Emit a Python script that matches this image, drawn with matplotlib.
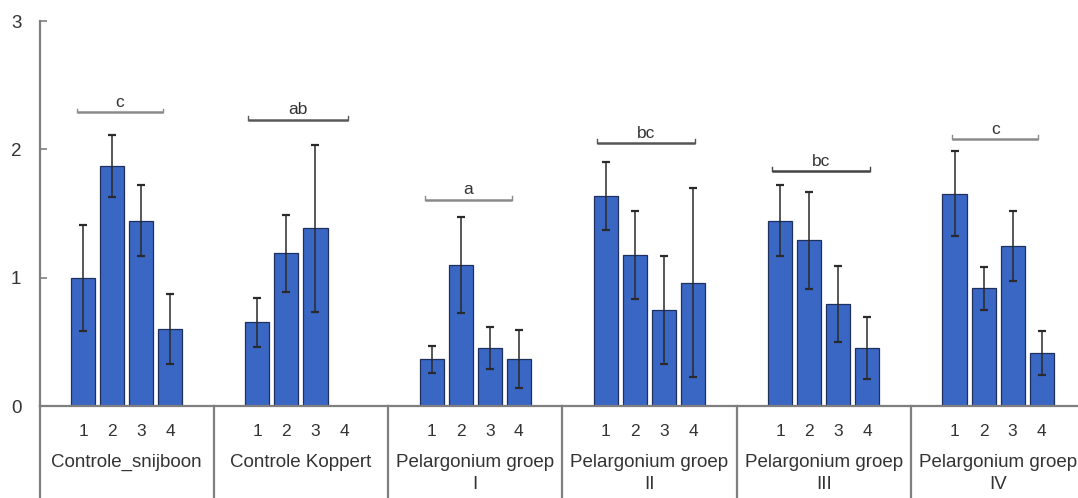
import matplotlib
matplotlib.use("Agg")
import matplotlib.pyplot as plt
import matplotlib.transforms as mtransforms
import numpy as np

plt.rcParams["font.family"] = ["Liberation Sans", "DejaVu Sans"]

# Groups and per-group plots (1-4)
groups = ["Controle_snijboon", "Controle Koppert", "Pelargonium groep\nI",
          "Pelargonium groep\nII", "Pelargonium groep\nIII", "Pelargonium groep\nIV"]
plot_labels = ["1", "2", "3", "4"]

# Mean values per group (nan = no data)
means = [
    [1.00, 1.87, 1.445, 0.60],
    [0.652, 1.19, 1.385, np.nan],
    [0.364, 1.10, 0.45, 0.364],
    [1.637, 1.177, 0.745, 0.962],
    [1.445, 1.29, 0.795, 0.449],
    [1.655, 0.917, 1.25, 0.413],
]
# Standard errors
errors = [
    [0.414, 0.24, 0.28, 0.274],
    [0.19, 0.30, 0.65, np.nan],
    [0.104, 0.375, 0.162, 0.227],
    [0.267, 0.34, 0.42, 0.734],
    [0.277, 0.38, 0.293, 0.242],
    [0.333, 0.169, 0.273, 0.173],
]
# Significance letters per group and the height of their bracket
sig_letters = ["c", "ab", "a", "bc", "bc", "c"]
sig_heights = [2.288, 2.232, 1.605, 2.047, 1.83, 2.078]

# Layout: six slots per group, bars in slots 1..4
slots_per_group = 6
bracket_spans = [(1.28, 4.24), (1.18, 4.62), (1.27, 4.25),
                 (1.18, 4.56), (1.20, 4.59), (1.42, 4.38)]
bracket_colors = ["#8a8a8a", "#5a5a5a", "#8a8a8a", "#555555", "#444444", "#8a8a8a"]

W, H = 1078, 498
fig = plt.figure(figsize=(W / 100, H / 100), dpi=100)
ax_left, ax_bottom = 39.5 / W, (H - 406) / H
ax_top = (H - 21) / H
ax = fig.add_axes([ax_left, ax_bottom, 1.0 - ax_left, ax_top - ax_bottom])

bar_color = "#3a66c4"
edge_color = "#1f2f5e"
axis_color = "#7f7f7f"
text_color = "#333333"

for g, (vals, errs) in enumerate(zip(means, errors)):
    x = g * slots_per_group + np.arange(1, 5) + 0.5
    vals = np.array(vals, dtype=float)
    errs = np.array(errs, dtype=float)
    ok = ~np.isnan(vals)
    ax.bar(x[ok], vals[ok], width=0.83, color=bar_color, edgecolor=edge_color,
           linewidth=0.9, zorder=2)
    ax.errorbar(x[ok], vals[ok], yerr=errs[ok], fmt="none", ecolor="#2a2a2a",
                elinewidth=1.1, capsize=3.2, capthick=1.6, zorder=3)

    # significance bracket with letter
    x0 = g * slots_per_group + bracket_spans[g][0]
    x1 = g * slots_per_group + bracket_spans[g][1]
    yb = sig_heights[g]
    col = bracket_colors[g]
    ax.plot([x0, x1], [yb, yb], color=col, lw=1.8, solid_capstyle="butt", zorder=3)
    for xe in (x0, x1):
        ax.plot([xe, xe], [yb, yb + 0.03], color=col, lw=1.0, zorder=3)
    ax.text((x0 + x1) / 2, yb + 0.02, sig_letters[g], ha="center", va="bottom",
            fontsize=12.5, color=text_color, zorder=4)

ax.set_xlim(0, 35.75)
ax.set_ylim(0, 3)
ax.set_yticks([0, 1, 2, 3])
ax.tick_params(axis="y", direction="in", length=5, width=1.2, colors=axis_color,
               labelcolor=text_color, labelsize=13.5, pad=13)
ax.set_xticks([])
for side in ("top", "right"):
    ax.spines[side].set_visible(False)
for side in ("left", "bottom"):
    ax.spines[side].set_color(axis_color)
    ax.spines[side].set_linewidth(1.6)

# category axis below the plot: plot numbers, group names, separators
trans = mtransforms.blended_transform_factory(ax.transData, ax.transAxes)
ax_h_px = 406 - 21
def yfrac(py):
    return (406 - py) / ax_h_px

for g, name in enumerate(groups):
    base = g * slots_per_group
    for i, lab in enumerate(plot_labels):
        ax.text(base + i + 1.5, yfrac(431), lab, transform=trans, ha="center",
                va="center", fontsize=12.5, color=text_color, clip_on=False)
    ax.text(base + slots_per_group / 2, yfrac(454), name, transform=trans,
            ha="center", va="top", fontsize=13.5, color=text_color,
            linespacing=1.35, clip_on=False)

for g in range(len(groups) + 1):
    ax.plot([g * slots_per_group] * 2, [0, yfrac(H + 5)], transform=trans,
            color=axis_color, lw=1.6, clip_on=False)

fig.savefig("out.png", dpi=100, facecolor="white")
